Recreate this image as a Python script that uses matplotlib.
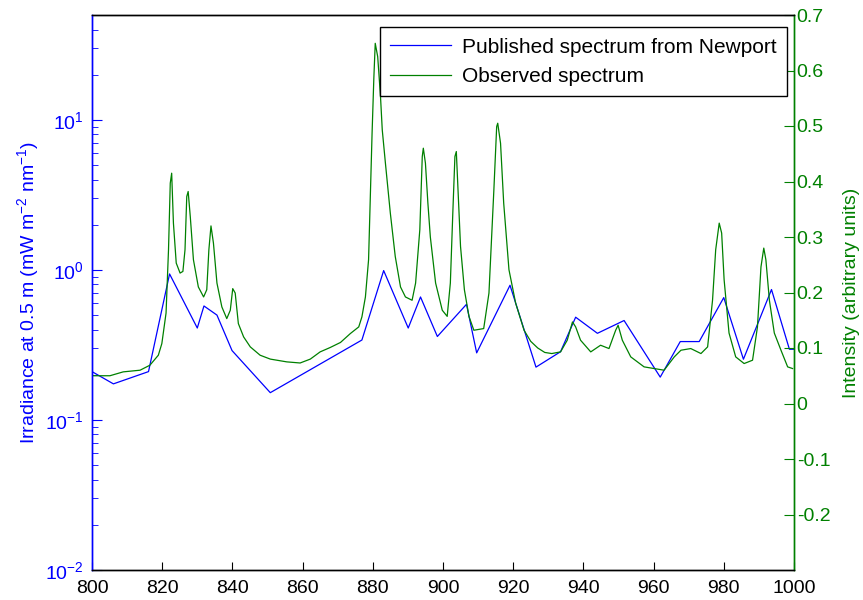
import matplotlib
matplotlib.use('Agg')
import matplotlib.pyplot as plt
from matplotlib.ticker import FixedLocator, LogLocator, NullFormatter, FormatStrFormatter

plt.rcParams['font.family'] = ['Liberation Sans', 'DejaVu Sans']
plt.rcParams['mathtext.default'] = 'regular'
plt.rcParams['axes.unicode_minus'] = False

# Published spectrum (Newport), irradiance, log axis
newport_nm = [800, 806.1, 816.1, 822.1, 830.0, 831.9, 835.6, 839.9, 850.8, 876.9,
              883.1, 890.1, 893.6, 898.4, 906.7, 909.6, 919.1, 926.5, 933.5, 937.8,
              944.0, 951.6, 961.9, 967.6, 973.0, 980.0, 985.6, 993.6, 998.7, 1000]
newport_irr = [0.21, 0.174, 0.21, 0.94, 0.41, 0.575, 0.50, 0.29, 0.152, 0.341,
               0.99, 0.41, 0.66, 0.36, 0.59, 0.28, 0.79, 0.225, 0.285, 0.484,
               0.378, 0.46, 0.193, 0.333, 0.333, 0.654, 0.254, 0.74, 0.296, 0.296]

# Observed spectrum, arbitrary units, linear axis
obs_nm = [800.2, 805.1, 808.9, 813.7, 816.5, 818.9, 819.9, 821.1, 821.8, 822.3,
          822.7, 823.2, 824.0, 825.1, 825.9, 826.5, 827.0, 827.4, 828.0, 828.9,
          830.3, 831.8, 832.7, 833.3, 833.9, 834.6, 835.6, 837.0, 838.4, 839.4,
          840.1, 840.8, 841.7, 843.2, 845.1, 847.9, 850.8, 855.5, 859.3, 862.2,
          865.0, 867.9, 870.8, 873.6, 876.0, 876.9, 877.9, 878.4, 878.8, 879.8,
          880.3, 880.7, 881.4, 882.2, 882.7, 883.6, 885.0, 886.4, 887.9, 889.3,
          891.2, 892.2, 893.4, 894.1, 894.4, 895.0, 895.7, 896.4, 897.9, 899.8,
          901.2, 902.1, 902.8, 903.4, 903.8, 904.2, 905.0, 906.1, 907.4, 908.8,
          911.6, 913.1, 914.5, 915.3, 915.6, 916.4, 917.3, 918.8, 920.7, 923.1,
          925.0, 927.0, 929.0, 931.0, 933.5, 935.4, 936.9, 937.8, 939.2, 942.1,
          944.9, 947.3, 949.2, 949.9, 951.1, 953.5, 957.3, 960.2, 963.0, 965.9,
          967.8, 970.6, 973.5, 975.4, 976.8, 977.7, 978.7, 979.4, 980.1, 981.5,
          983.4, 985.8, 988.2, 989.6, 990.6, 991.4, 992.0, 993.0, 994.4, 996.3,
          998.2, 999.6]
obs_int = [0.050, 0.050, 0.057, 0.060, 0.069, 0.087, 0.108, 0.163, 0.277, 0.397,
           0.415, 0.325, 0.253, 0.235, 0.238, 0.277, 0.373, 0.382, 0.337, 0.259,
           0.210, 0.192, 0.205, 0.277, 0.320, 0.289, 0.217, 0.174, 0.153, 0.168,
           0.207, 0.199, 0.144, 0.120, 0.102, 0.087, 0.080, 0.075, 0.073, 0.080,
           0.093, 0.101, 0.110, 0.126, 0.138, 0.156, 0.192, 0.228, 0.259, 0.487,
           0.586, 0.649, 0.625, 0.553, 0.493, 0.433, 0.343, 0.265, 0.210, 0.192,
           0.186, 0.217, 0.313, 0.445, 0.460, 0.433, 0.361, 0.300, 0.217, 0.168,
           0.157, 0.217, 0.343, 0.445, 0.454, 0.397, 0.283, 0.205, 0.157, 0.132,
           0.135, 0.199, 0.385, 0.499, 0.505, 0.469, 0.361, 0.241, 0.181, 0.132,
           0.112, 0.100, 0.092, 0.090, 0.093, 0.114, 0.147, 0.138, 0.114, 0.093,
           0.105, 0.099, 0.132, 0.141, 0.114, 0.084, 0.066, 0.063, 0.060, 0.084,
           0.096, 0.099, 0.090, 0.102, 0.186, 0.277, 0.325, 0.307, 0.223, 0.127,
           0.084, 0.072, 0.078, 0.138, 0.246, 0.280, 0.259, 0.186, 0.127, 0.096,
           0.066, 0.063]

x_ticks = [800, 820, 840, 860, 880, 900, 920, 940, 960, 980, 1000]
right_ticks = [-0.2, -0.1, 0, 0.1, 0.2, 0.3, 0.4, 0.5, 0.6, 0.7]

blue = (0, 0, 1)
green = (0, 0.5, 0)
fs = 14

fig = plt.figure(figsize=(8.63, 6), dpi=100)
ax1 = fig.add_axes([0.1066, 0.05, 0.8134, 0.925])
ax2 = ax1.twinx()

l1, = ax1.plot(newport_nm, newport_irr, color=blue, lw=0.9)
l2, = ax2.plot(obs_nm, obs_int, color=green, lw=0.9)

ax1.set_xlim(800, 1000)
ax1.set_yscale('log')
ax1.set_ylim(0.01, 50)
ax2.set_ylim(-0.3, 0.7)

ax1.xaxis.set_major_locator(FixedLocator(x_ticks))
ax1.yaxis.set_major_locator(LogLocator(base=10, numticks=10))
ax1.yaxis.set_minor_locator(LogLocator(base=10, subs=range(2, 10), numticks=20))
ax1.yaxis.set_minor_formatter(NullFormatter())
ax2.yaxis.set_major_locator(FixedLocator(right_ticks))
ax2.yaxis.set_major_formatter(FormatStrFormatter('%g'))

ax1.tick_params(axis='x', direction='in', length=6, labelsize=fs, colors='black', pad=7)
ax1.tick_params(axis='y', which='major', direction='in', length=7, labelsize=fs,
                colors=blue, pad=6)
ax1.tick_params(axis='y', which='minor', direction='in', length=4, colors=blue)
ax2.tick_params(axis='y', direction='in', length=7, labelsize=fs, colors=green, pad=2)

for ax in (ax1, ax2):
    ax.spines['left'].set_color(blue)
    ax.spines['right'].set_color(green)
    ax.spines['top'].set_color('black')
    ax.spines['bottom'].set_color('black')
    for s in ax.spines.values():
        s.set_linewidth(1.0)

ax1.set_ylabel('Irradiance at 0.5 m (mW m$^{-2}$ nm$^{-1}$)', color=blue, fontsize=fs, labelpad=3)
ax2.set_ylabel('Intensity (arbitrary units)', color=green, fontsize=fs, labelpad=9)

leg = ax2.legend([l1, l2], ['Published spectrum from Newport', 'Observed spectrum'],
                 loc='upper right', bbox_to_anchor=(0.99, 0.978), fontsize=15,
                 fancybox=False, framealpha=1, edgecolor='black', handlelength=2.95,
                 borderpad=0.5, labelspacing=0.5, handletextpad=0.5, borderaxespad=0)
leg.get_frame().set_linewidth(1.0)

plt.savefig('out.png', dpi=100)
plt.close()
